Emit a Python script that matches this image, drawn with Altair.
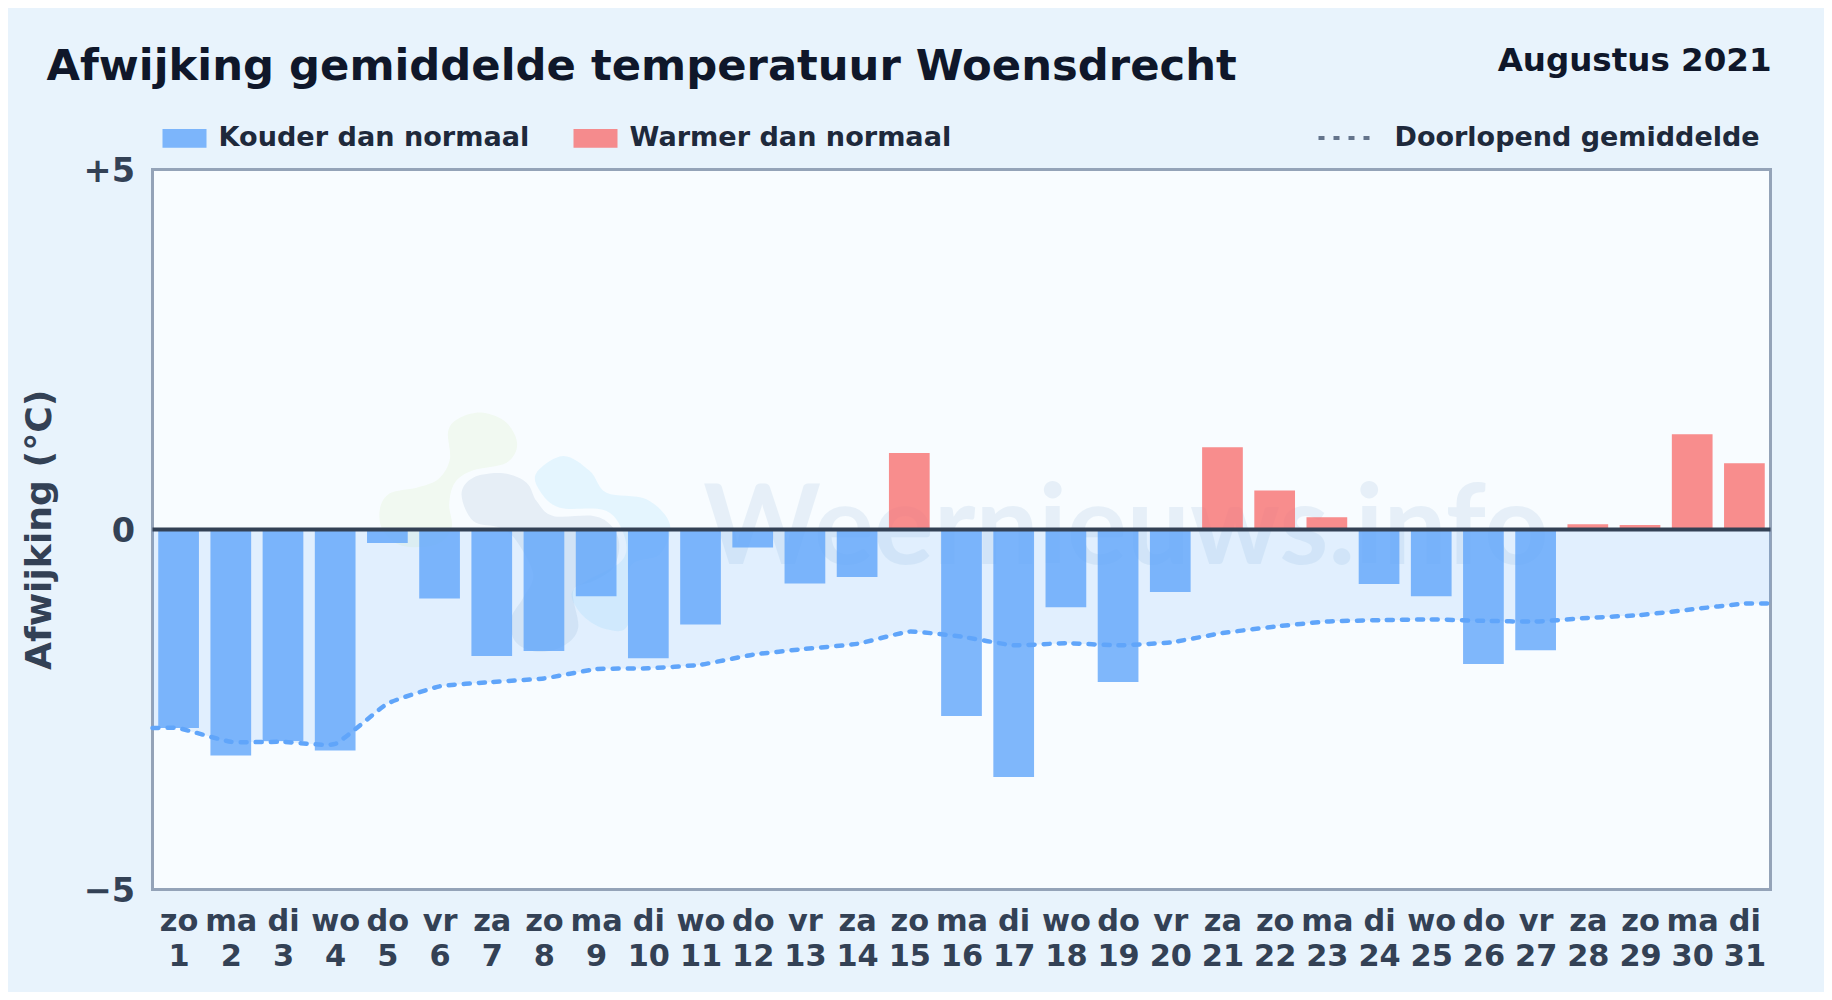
import json
import altair as alt
import pandas as pd

days = list(range(1, 32))
weekdays = ["zo","ma","di","wo","do","vr","za","zo","ma","di","wo","do","vr","za","zo","ma","di","wo","do","vr","za","zo","ma","di","wo","do","vr","za","zo","ma","di"]
deviation = [-2.76,-3.14,-2.94,-3.07,-0.19,-0.96,-1.76,-1.69,-0.93,-1.79,-1.32,-0.25,-0.75,-0.66,1.06,-2.59,-3.44,-1.08,-2.12,-0.87,1.14,0.54,0.17,-0.76,-0.93,-1.87,-1.68,0.07,0.06,1.32,0.92]
running = [-2.76,-2.95,-2.95,-2.98,-2.42,-2.18,-2.12,-2.07,-1.94,-1.93,-1.88,-1.74,-1.66,-1.59,-1.42,-1.49,-1.61,-1.58,-1.61,-1.57,-1.44,-1.35,-1.28,-1.26,-1.25,-1.27,-1.28,-1.23,-1.19,-1.11,-1.03]
COLD, WARM = "Kouder dan normaal", "Warmer dan normaal"
LINE = "Doorlopend gemiddelde"
FONT = "DejaVu Sans"

bars = pd.DataFrame({
    "day": days,
    "lo": [d - 0.39 for d in days],
    "hi": [d + 0.39 for d in days],
    "dev": deviation,
    "kind": [WARM if v > 0 else COLD for v in deviation],
})
# the running mean reaches the frame on both sides, holding its end values
line = pd.DataFrame({
    "day": [0.5] + days + [31.5],
    "mean": [running[0]] + running + [running[-1]],
    "name": LINE,
})

x_scale = alt.Scale(domain=[0.5, 31.5], nice=False, zero=False)
y_scale = alt.Scale(domain=[-5, 5], nice=False)
x_axis = alt.Axis(
    title=None, values=days, domain=False, ticks=False, grid=False,
    labelExpr="[%s[datum.value-1], '' + datum.value]" % json.dumps(weekdays).replace('"', "'"),
    labelFont=FONT, labelFontWeight="bold", labelFontSize=30.4, labelColor="#334155",
    labelLineHeight=35, labelPadding=17, labelOverlap=False, labelFlush=False)
y_axis = alt.Axis(
    title="Afwijking (°C)", values=[-5, 0, 5], domain=False, ticks=False, grid=False,
    labelExpr="datum.value > 0 ? '+' + datum.value : datum.value < 0 ? '\u2212' + abs(datum.value) : '0'",
    labelFont=FONT, labelFontWeight="bold", labelFontSize=33.5, labelColor="#334155", labelPadding=18, labelOffset=2,
    titleFont=FONT, titleFontWeight="bold", titleFontSize=36.2, titleColor="#334155", titlePadding=25)


def X(field):
    return alt.X(field, scale=x_scale, axis=x_axis)


def Y(field):
    return alt.Y(field, scale=y_scale, axis=y_axis)


def blob(points, cx=530.0, cy=520.0, half=200.0):
    """Closed smooth outline (Catmull-Rom) through crop-pixel points, as a unit symbol path."""
    pts = [((360 + a / 3 - cx) / half, (395 + b / 3 - cy) / half) for a, b in points]
    n = len(pts)
    d = "M%.4f,%.4f" % pts[0]
    for i in range(n):
        p0, p1, p2, p3 = pts[i - 1], pts[i], pts[(i + 1) % n], pts[(i + 2) % n]
        c1 = (p1[0] + (p2[0] - p0[0]) / 6, p1[1] + (p2[1] - p0[1]) / 6)
        c2 = (p2[0] - (p3[0] - p1[0]) / 6, p2[1] - (p3[1] - p1[1]) / 6)
        d += "C%.4f,%.4f %.4f,%.4f %.4f,%.4f" % (c1 + c2 + p2)
    return d + "Z"


green_lobe = [(265,110),(300,70),(370,55),(440,85),(472,150),(440,205),(340,228),(285,265),(268,330),(275,400),(230,450),(130,455),(70,410),(60,345),(90,297),(170,280),(235,255),(270,195)]
grey_lobe = [(305,300),(340,250),(430,237),(500,265),(530,320),(580,365),(700,365),(755,395),(778,450),(760,520),(700,560),(640,590),(655,700),(610,755),(530,772),(465,740),(455,670),(490,610),(520,540),(470,440),(420,400),(340,380)]
blue_lobe = [(530,235),(610,185),(690,230),(740,295),(860,315),(930,390),(900,480),(810,520),(805,690),(740,705),(670,665),(635,600),(680,560),(785,500),(795,430),(740,350),(600,340),(540,290)]
logo = pd.DataFrame({"x": [7.73], "y": [0.14]})
logo_marks = [
    alt.Chart(logo).mark_point(shape=blob(p), size=160000, filled=True, fill=c, opacity=o, strokeWidth=0).encode(x=X("x:Q"), y=Y("y:Q"))
    for p, c, o in [(green_lobe, "#84cc16", 0.06), (grey_lobe, "#1e4e8c", 0.08), (blue_lobe, "#38bdf8", 0.1)]
]

wm = alt.Chart(pd.DataFrame({"t": ["Weernieuws.info"], "x": [11.05], "y": [-0.486]})).mark_text(
    font="Lato", fontWeight="bold", fontSize=112, color="#3a7ab9", opacity=0.09, align="left", baseline="alphabetic"
).encode(x=X("x:Q"), y=Y("y:Q"), text="t:N")

area = alt.Chart(line).mark_area(color="#60a5fa", opacity=0.15, interpolate="cardinal", tension=0.6).encode(
    x=X("day:Q"), y=Y("mean:Q"), y2=alt.datum(0))

bar = alt.Chart(bars).mark_bar(opacity=0.8).encode(
    x=X("lo:Q"),
    x2="hi:Q",
    y=Y("dev:Q"),
    y2=alt.datum(0),
    color=alt.Color("kind:N", scale=alt.Scale(domain=[COLD, WARM], range=["#60a5fa", "#f87171"]),
                    legend=alt.Legend(
                        title=None, orient="none", direction="horizontal", legendX=10, legendY=-53.5,
                        symbolType="M-1,-0.43H1V0.43H-1Z", symbolSize=1936, symbolStrokeWidth=0,
                        labelFont=FONT, labelFontWeight="bold", labelFontSize=27.1, labelColor="#1e293b",
                        labelOffset=12, columnPadding=44, labelLimit=500)),
)

mean_line = alt.Chart(line).mark_line(color="#60a5fa", strokeWidth=4.5, strokeCap="round", interpolate="cardinal", tension=0.6).encode(
    x=X("day:Q"),
    y=Y("mean:Q"),
    strokeDash=alt.StrokeDash("name:N", scale=alt.Scale(domain=[LINE], range=[[6, 9]]),
                              legend=alt.Legend(
                                  title=None, orient="none", legendX=1164, legendY=-61,
                                  symbolType="stroke", symbolSize=3025, symbolStrokeColor="#64748b",
                                  symbolStrokeWidth=4, symbolDash=[4, 12.5],
                                  labelFont=FONT, labelFontWeight="bold", labelFontSize=27, labelColor="#1e293b",
                                  labelOffset=19, labelLimit=500)),
)

zero = alt.Chart(pd.DataFrame({"v": [0]})).mark_rule(color="#334155", strokeWidth=4).encode(y=Y("v:Q"))

month = alt.Chart(pd.DataFrame({"t": ["Augustus 2021"]})).mark_text(
    font=FONT, fontWeight="bold", fontSize=32.5, color="#0f172a", align="right", baseline="alphabetic"
).encode(x=alt.value(1619), y=alt.value(-98.5), text="t:N")

chart = alt.layer(*logo_marks, wm, area, bar, mean_line, zero, month).properties(
    width=1618,
    height=720,
    autosize=alt.AutoSizeParams(type="none"),
    padding={"left": 144.5, "top": 161.4, "right": 53.5, "bottom": 102.6},
    background="#e8f3fc",
    title=alt.TitleParams(
        "Afwijking gemiddelde temperatuur Woensdrecht",
        anchor="start", frame="group", dx=-106, dy=44, offset=0,
        font=FONT, fontWeight="bold", fontSize=43.3, color="#0f172a"),
).configure_view(fill="#f8fcff", stroke="#94a3b8", strokeWidth=3)

chart.save("out.html", embed_options={"renderer": "svg", "actions": False})
